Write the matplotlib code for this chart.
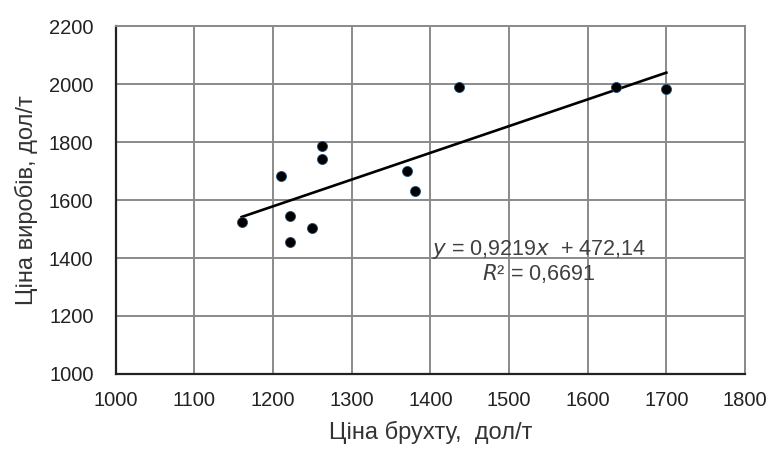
import matplotlib
matplotlib.use("Agg")
import matplotlib.pyplot as plt
import numpy as np

plt.rcParams['font.family'] = ['Liberation Sans', 'DejaVu Sans']

# price of scrap vs price of products, $/t
scrap_price = [1160, 1210, 1221, 1221, 1250, 1262, 1262, 1370, 1380, 1437, 1636, 1700]
product_price = [1525, 1683, 1545, 1455, 1503, 1785, 1742, 1700, 1630, 1990, 1990, 1983]

slope = 0.9219
intercept = 472.14
r2_text = "0,6691"

x_ticks = [1000, 1100, 1200, 1300, 1400, 1500, 1600, 1700, 1800]
y_ticks = [1000, 1200, 1400, 1600, 1800, 2000, 2200]

fig = plt.figure(figsize=(7.72, 4.5), dpi=100)
ax = fig.add_axes([0.150, 0.169, 0.815, 0.773])

ax.set_xlim(1000, 1800)
ax.set_ylim(1000, 2200)
ax.set_xticks(x_ticks)
ax.set_yticks(y_ticks)
ax.grid(True, color="#8a8a8a", linewidth=1.4, zorder=0)
ax.set_axisbelow(True)
ax.tick_params(length=0, labelsize=14.5, colors="#222222")
ax.tick_params(axis="x", pad=12)
ax.tick_params(axis="y", pad=16)
for side in ("top", "right"):
    ax.spines[side].set_color("#8a8a8a")
    ax.spines[side].set_linewidth(1.4)
for side in ("left", "bottom"):
    ax.spines[side].set_color("#222222")
    ax.spines[side].set_linewidth(1.6)

# trend line over data range
xs = np.array([min(scrap_price), max(scrap_price)])
ax.plot(xs, slope * xs + intercept, color="black", linewidth=1.9, zorder=3)

ax.scatter(scrap_price, product_price, s=52, color="black",
           edgecolors="#1f4e79", linewidths=0.6, zorder=4)

ax.text(1538, 1428, "$y$ = 0,9219$x$  + 472,14", ha="center", va="center",
        fontsize=15.5, color="#404040")
ax.text(1538, 1345, "$R$² = " + r2_text, ha="center", va="center",
        fontsize=15.5, color="#404040")

ax.set_xlabel("Ціна брухту,  дол/т", fontsize=17, color="#333333")
ax.set_ylabel("Ціна виробів, дол/т", fontsize=17, color="#333333")
ax.xaxis.set_label_coords(0.5, -0.135)
ax.yaxis.set_label_coords(-0.124, 0.5)

fig.savefig("out.png", dpi=100)
